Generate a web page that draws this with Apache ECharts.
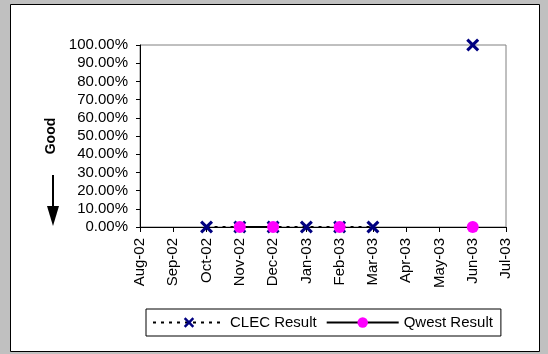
<!DOCTYPE html>
<html><head><meta charset="utf-8">
<script src="https://cdn.jsdelivr.net/npm/echarts@6/dist/echarts.min.js"></script>
<style>html,body{margin:0;padding:0;background:#c0c0c0;}#c{width:548px;height:354px;}</style>
</head><body><div id="c"></div>
<script>
var months = ['Aug-02','Sep-02','Oct-02','Nov-02','Dec-02','Jan-03','Feb-03','Mar-03','Apr-03','May-03','Jun-03','Jul-03'];
var clecResult = [null, null, 0, 0, 0, 0, 0, 0, null, null, 100, null];
var qwestResult = [null, null, null, 0, 0, null, 0, null, null, null, 0, null];
var yTicks = {min: 0, max: 100, interval: 10};

var xPath = 'path://M0,2 L2,0 L6,4 L10,0 L12,2 L8,6 L12,10 L10,12 L6,8 L2,12 L0,10 L4,6 Z';
var font = 'Arial, "Liberation Sans", sans-serif';
var chart = echarts.init(document.getElementById('c'), null, {renderer: 'canvas'});
chart.setOption({
  backgroundColor: '#c0c0c0',
  animation: false,
  graphic: [
    {type: 'rect', z: -10, shape: {x: 10.5, y: 4.5, width: 529, height: 347}, style: {fill: '#fff', stroke: '#000', lineWidth: 1}},
    {type: 'line', shape: {x1: 53, y1: 175, x2: 53, y2: 210}, style: {stroke: '#000', lineWidth: 2}},
    {type: 'polygon', shape: {points: [[47, 206], [59, 206], [53, 226]]}, style: {fill: '#000'}}
  ],
  grid: {left: 140, right: 42, top: 45, bottom: 127, show: true, backgroundColor: '#fff', borderColor: '#808080', borderWidth: 1},
  legend: {
    left: 146, top: 309, padding: [6, 8, 6, 6], itemGap: 9, itemWidth: 72, itemHeight: 13,
    borderColor: '#000', borderWidth: 1, backgroundColor: '#fff',
    textStyle: {fontFamily: font, fontSize: 15, color: '#000'},
    data: ['CLEC Result', 'Qwest Result']
  },
  xAxis: {
    type: 'category', data: months, boundaryGap: false,
    axisLine: {lineStyle: {color: '#000', width: 1}},
    axisTick: {show: true, length: 5, lineStyle: {color: '#000'}, alignWithLabel: true},
    axisLabel: {rotate: 90, fontFamily: font, fontSize: 15, color: '#000', margin: 11, interval: 0},
    splitLine: {show: false}
  },
  yAxis: {
    type: 'value', min: yTicks.min, max: yTicks.max, interval: yTicks.interval,
    name: 'Good', nameLocation: 'middle', nameRotate: 90, nameGap: 81,
    nameTextStyle: {fontFamily: font, fontSize: 14, fontWeight: 'bold', color: '#000'},
    axisLine: {show: true, lineStyle: {color: '#000', width: 1}},
    axisTick: {show: true, length: 4, lineStyle: {color: '#000'}},
    axisLabel: {fontFamily: font, fontSize: 15, color: '#000', margin: 12, formatter: function (v) { return v.toFixed(2) + '%'; }},
    splitLine: {show: false}
  },
  series: [
    {name: 'CLEC Result', type: 'line', data: clecResult, connectNulls: false,
     symbol: xPath, symbolSize: 13, showAllSymbol: true,
     itemStyle: {color: '#000080'},
     lineStyle: {color: '#000', width: 2, type: [3, 5]}, z: 2},
    {name: 'Qwest Result', type: 'line', data: qwestResult, connectNulls: false,
     symbol: 'circle', symbolSize: 12, showAllSymbol: true,
     itemStyle: {color: '#ff00ff'},
     lineStyle: {color: '#000', width: 2, type: 'solid'}, z: 3}
  ]
});
</script></body></html>
